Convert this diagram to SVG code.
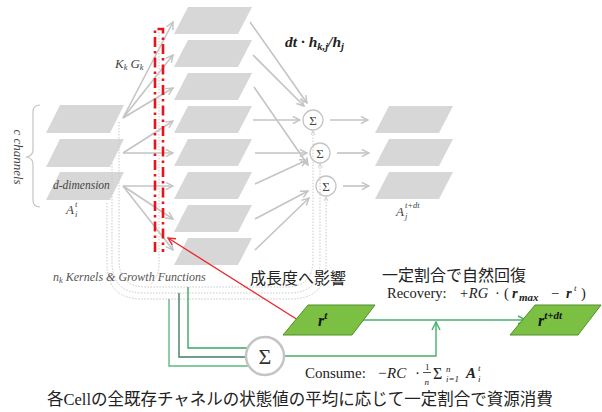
<svg xmlns="http://www.w3.org/2000/svg" width="602" height="412" viewBox="0 0 602 412">
<defs>
<style>
.gp{fill:#d7d7d7;stroke:none}
.ga{fill:none;stroke:#c4c4c4;stroke-width:1.6;marker-end:url(#ag)}
.dot{fill:none;stroke:#c9c9c9;stroke-width:1;stroke-dasharray:1.5 1.5}
.sc{fill:#fff;stroke:#c4c4c4;stroke-width:1.3}
.red{fill:none;stroke:#e8141b;stroke-width:2.6;stroke-dasharray:10 4 2.5 4}
.grn{fill:#7cc043;stroke:#4f8f2c;stroke-width:1}
.gl{fill:none;stroke:#45b06a;stroke-width:1.4}
.it{font-family:"Liberation Serif",serif;font-style:italic}
.sr{font-family:"Liberation Serif",serif}
.jp{font-family:"Noto Sans CJK JP","Noto Sans",sans-serif}
</style>
<marker id="ag" viewBox="0 0 10 10" refX="9" refY="5" markerWidth="9" markerHeight="9" orient="auto" markerUnits="userSpaceOnUse"><path d="M1,1 L9,5 L1,9" fill="none" stroke="#c4c4c4" stroke-width="1.6"/></marker>
<marker id="as" viewBox="0 0 10 10" refX="9" refY="5" markerWidth="5" markerHeight="5" orient="auto" markerUnits="userSpaceOnUse"><path d="M1,1 L9,5 L1,9" fill="none" stroke="#c4c4c4" stroke-width="1.6"/></marker>
<marker id="ar" viewBox="0 0 10 10" refX="9" refY="5" markerWidth="9" markerHeight="9" orient="auto" markerUnits="userSpaceOnUse"><path d="M1,1 L9,5 L1,9" fill="none" stroke="#e8262c" stroke-width="1.5"/></marker>
<marker id="agn" viewBox="0 0 10 10" refX="9" refY="5" markerWidth="10" markerHeight="10" orient="auto" markerUnits="userSpaceOnUse"><path d="M1,1 L9,5 L1,9" fill="none" stroke="#45b06a" stroke-width="1.4"/></marker>
</defs>
<rect width="602" height="412" fill="#fff"/>

<g id="left-channels">
<polygon class="gp" points="60,105 124,105 110,133 46,133"/>
<polygon class="gp" points="60,139 124,139 110,167 46,167"/>
<polygon class="gp" points="60,172 124,172 110,200 46,200"/>
<text class="it" x="53" y="189" font-size="11.5" fill="#444">d-dimension</text>
<text class="it" x="66" y="214" font-size="13" fill="#444">A<tspan x="75" y="207" font-size="8.5">t</tspan><tspan x="75" y="217" font-size="8.5">i</tspan></text>
<path d="M40,105 Q33,105 33,112 V150 Q33,156 26,157 Q33,158 33,164 V200 Q33,207 40,207" fill="none" stroke="#c4c4c4" stroke-width="1.2"/>
<text class="it" transform="translate(14,157) rotate(90)" text-anchor="middle" font-size="13" fill="#444">c channels</text>
</g>

<g id="middle-column">
<polygon class="gp" points="188,7 252,7 238,34 174,34"/>
<polygon class="gp" points="188,40 252,40 238,67 174,67"/>
<polygon class="gp" points="188,73 252,73 238,100 174,100"/>
<polygon class="gp" points="188,106 252,106 238,133 174,133"/>
<polygon class="gp" points="188,139 252,139 238,166 174,166"/>
<polygon class="gp" points="188,172 252,172 238,199 174,199"/>
<polygon class="gp" points="188,205 252,205 238,232 174,232"/>
<polygon class="gp" points="188,238 252,238 238,265 174,265"/>
</g>

<g id="right-column">
<polygon class="gp" points="389,106 453,106 439,133 375,133"/>
<polygon class="gp" points="389,139 453,139 439,166 375,166"/>
<polygon class="gp" points="389,172 453,172 439,199 375,199"/>
<text class="it" x="396" y="216" font-size="13" fill="#444">A<tspan x="405" y="208" font-size="8.5">t+dt</tspan><tspan x="405" y="219" font-size="8.5">j</tspan></text>
</g>

<g id="sum-nodes">
<circle class="sc" cx="313" cy="120" r="10"/>
<circle class="sc" cx="320" cy="153" r="10"/>
<circle class="sc" cx="326" cy="186" r="10"/>
<text class="sr" x="313" y="124.5" font-size="13" text-anchor="middle" fill="#444">Σ</text>
<text class="sr" x="320" y="157.5" font-size="13" text-anchor="middle" fill="#444">Σ</text>
<text class="sr" x="326" y="190.5" font-size="13" text-anchor="middle" fill="#444">Σ</text>
</g>

<g id="connectors">
<path class="ga" d="M123,118 L173,22"/>
<path class="ga" d="M123,118 L173,55"/>
<path class="ga" d="M123,118 L173,88"/>
<path class="ga" d="M123,153 L173,121"/>
<path class="ga" d="M123,153 L173,153"/>
<path class="ga" d="M123,186 L173,186"/>
<path class="ga" d="M123,186 L173,219"/>
<path class="ga" d="M123,186 L173,250"/>
<path class="ga" d="M250,22 L307,103"/>
<path class="ga" d="M253,55 L304,106"/>
<path class="ga" d="M254,87 L308,165"/>
<path class="ga" d="M253,120 L300,120"/>
<path class="ga" d="M255,153 L307,153"/>
<path class="ga" d="M255,184 L307,160"/>
<path class="ga" d="M255,219 L308,191"/>
<path class="ga" d="M255,250 L309,198"/>
<path class="ga" d="M330,120 L368,120"/>
<path class="ga" d="M337,153 L369,153"/>
<path class="ga" d="M343,186 L369,186"/>
<path class="dot" d="M119,122 V260 Q119,287 146,287 H286 Q313,287 313,260 V131" marker-end="url(#as)"/>
<path class="dot" d="M112,163 V262 Q112,293 143,293 H289 Q320,293 320,262 V164" marker-end="url(#as)"/>
<path class="dot" d="M107,203 V264 Q107,299 142,299 H291 Q326,299 326,264 V197" marker-end="url(#as)"/>
<path class="dot" d="M159,32 V266 Q158,278 150,285"/>
<path class="red" d="M155,252 V29 H163 V252"/>
<path d="M298,320 L168,238" fill="none" stroke="#e8262c" stroke-width="1.3" marker-end="url(#ar)"/>
<path class="gl" d="M188,287 V348 H247" style="stroke:#3aa864"/>
<path class="gl" d="M179,293 V357 H245" style="stroke:#3f7f60"/>
<path class="gl" d="M169,299 V366 H248" style="stroke:#5cbc80"/>
<path class="gl" d="M285,356 H436 V322" marker-end="url(#agn)"/>
<path class="gl" d="M362,320 H526" marker-end="url(#agn)"/>
</g>

<g id="sum-big">
<circle cx="265" cy="356" r="19" fill="#fff" stroke="#c4c4c4" stroke-width="2.5"/>
<text class="sr" x="265" y="364" font-size="22" text-anchor="middle" fill="#333">Σ</text>
</g>

<g id="r-t">
<polygon class="grn" points="308,305 375,305 352,335 283,335"/>
<text class="sr" x="318" y="326" font-size="16" font-weight="bold" font-style="italic" fill="#111">r<tspan dy="-7" font-size="11">t</tspan></text>
</g>

<g id="r-tdt">
<polygon class="grn" points="535,305 601,305 578,335 510,335"/>
<text class="sr" x="538" y="326" font-size="16" font-weight="bold" font-style="italic" fill="#111">r<tspan dy="-7" font-size="11">t+dt</tspan></text>
</g>

<g id="labels">
<text class="it" x="115" y="68" font-size="13" fill="#444">K<tspan dy="2" font-size="8.5">k</tspan><tspan dx="3" dy="-2">G</tspan><tspan dy="2" font-size="8.5">k</tspan></text>
<text class="it" x="285" y="47" font-size="15.5" font-weight="bold" fill="#222">dt · h<tspan dy="3" font-size="10.5">k,j</tspan><tspan dy="-3">/h</tspan><tspan dy="3" font-size="10.5">j</tspan></text>
<text class="it" x="53" y="281" font-size="12" fill="#555">n<tspan dy="2" font-size="8.5">k</tspan><tspan dy="-2"> Kernels &amp; Growth Functions</tspan></text>
<text class="jp" x="250" y="284" font-size="16" fill="#222">成長度へ影響</text>
<text class="jp" x="382" y="281" font-size="16" fill="#222">一定割合で自然回復</text>
<text class="sr" y="298" font-size="14.5" fill="#222"><tspan x="387">Recovery:</tspan><tspan x="459" font-style="italic">+RG</tspan><tspan x="495">·</tspan><tspan x="504">(</tspan><tspan x="512" font-style="italic" font-weight="bold">r</tspan><tspan x="519" y="301" font-size="11" font-style="italic" font-weight="bold">max</tspan><tspan x="551" y="298">−</tspan><tspan x="566" font-style="italic" font-weight="bold">r</tspan><tspan x="574" y="291" font-size="9" font-style="italic">t</tspan><tspan x="581" y="298">)</tspan></text>
<text class="sr" y="378" font-size="15" fill="#222"><tspan x="305">Consume:</tspan><tspan x="377" font-style="italic">−RC</tspan><tspan x="415">·</tspan><tspan x="425" y="370" font-size="9">1</tspan><tspan x="424.5" y="385" font-size="9" font-style="italic">n</tspan><tspan x="433" y="379" font-size="16">Σ</tspan><tspan x="446" y="372" font-size="9" font-style="italic">n</tspan><tspan x="446" y="382" font-size="9" font-style="italic">i=1</tspan><tspan x="466" y="378" font-style="italic" font-weight="bold">A</tspan><tspan x="478" y="371" font-size="9" font-style="italic">t</tspan><tspan x="478" y="382" font-size="9" font-style="italic">i</tspan></text>
<path d="M423,372.5 H431" stroke="#222" stroke-width="0.8"/>
<text class="jp" x="47" y="405" font-size="16.5" fill="#222">各<tspan font-family="Liberation Serif,serif">Cell</tspan>の全既存チャネルの状態値の平均に応じて一定割合で資源消費</text>
</g>
</svg>
